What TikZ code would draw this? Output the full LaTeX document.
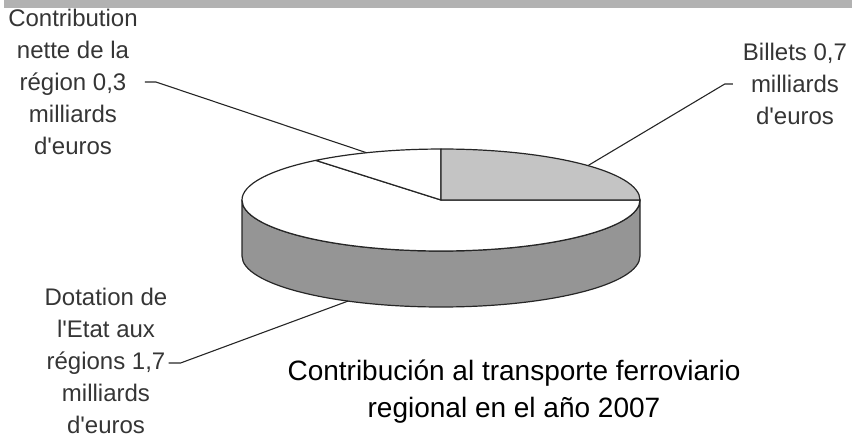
\documentclass[tikz,border=0pt]{standalone}
\usepackage{fontspec}
\setmainfont{Liberation Sans}
\definecolor{topslice}{HTML}{C4C4C4}
\definecolor{sidewall}{HTML}{959595}
\definecolor{headbar}{HTML}{B2B2B2}
\definecolor{labeltext}{HTML}{353535}
\newcommand{\apos}{\textquotesingle}
\tikzset{
  pie edge/.style={draw=black!85, line width=1.2pt, line join=round},
  label text/.style={align=center, inner sep=0pt, text=labeltext, font=\fontsize{24}{32}\selectfont},
  leader/.style={draw=black!85, line width=1.1pt}
}
\begin{document}
\begin{tikzpicture}[x=1pt,y=-1pt]
\useasboundingbox (0,0) rectangle (852,438);
\fill[headbar] (4,0) rectangle (852,8);

% pie centre (441,200), radii 199 and 51, depth 56
\coordinate (c) at (441,200);
\filldraw[pie edge, fill=sidewall] (242,200) -- (242,256) arc[start angle=180, end angle=0, x radius=199, y radius=51] -- (640,200) arc[start angle=0, end angle=180, x radius=199, y radius=51] -- cycle;
\filldraw[pie edge, fill=white] (c) -- (640,200) arc[start angle=0, end angle=231, x radius=199, y radius=51] -- cycle;
\filldraw[pie edge, fill=white] (c) -- (315.8,160.4) arc[start angle=231, end angle=270, x radius=199, y radius=51] -- cycle;
\filldraw[pie edge, fill=topslice] (c) -- (441,149) arc[start angle=270, end angle=360, x radius=199, y radius=51] -- cycle;

\coordinate (rim-contrib) at (366.5,152.7);
\coordinate (rim-billets) at (588,165.6);
\coordinate (rim-dotation) at (348,301.1);

\node[label text] (lbl-contrib) at (73,82) {Contribution\\nette de la\\région 0,3\\milliards\\d\apos euros};
\node[label text] (lbl-billets) at (795,84) {Billets 0,7\\milliards\\d\apos euros};
\node[label text] (lbl-dotation) at (106,361) {Dotation de\\l\apos Etat aux\\régions 1,7\\milliards\\d\apos euros};

\draw[leader] ([xshift=7pt]lbl-contrib.east) -- ++(11,0) -- (rim-contrib);
\draw[leader] ([xshift=-10pt]lbl-billets.west) -- ++(-8,0) -- (rim-billets);
\draw[leader] ([xshift=1pt,yshift=-2pt]lbl-dotation.east) -- ++(12,0) -- (rim-dotation);

\node[align=center, font=\fontsize{28}{37}\selectfont] (title) at (514,392) {Contribución al transporte ferroviario\\regional en el año 2007};
\end{tikzpicture}
\end{document}
